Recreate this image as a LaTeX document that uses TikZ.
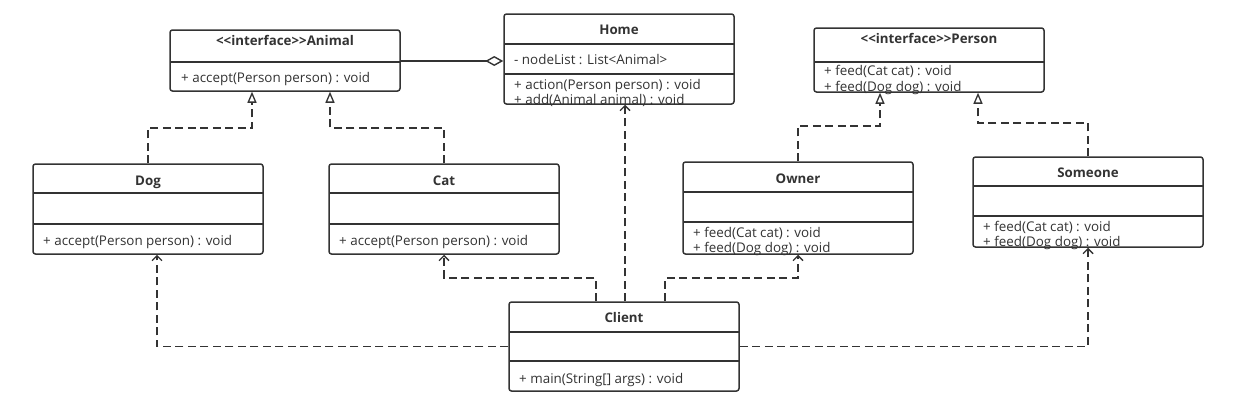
\documentclass[tikz,border=0pt]{standalone}
\usepackage{fontspec}
\setmainfont{Open Sans}
\usetikzlibrary{arrows.meta,calc}
\definecolor{ink}{HTML}{333333}
\begin{document}
\begin{tikzpicture}[x=1pt,y=-1pt,
 box/.style={draw=ink, line width=1.5pt, rounded corners=2.5pt, inner sep=0pt, fill=white},
 sepline/.style={draw=ink, line width=1.5pt},
 ctitle/.style={font=\bfseries\fontsize{13.3}{15}\selectfont, text=ink, inner sep=0pt, text height=9.5pt, text depth=3pt, anchor=center, yshift=-1pt},
 member/.style={font=\fontsize{13.4}{15}\selectfont, text=ink, inner sep=0pt, text height=9.5pt, text depth=3pt, anchor=west, yshift=-1pt},
 real/.style={draw=ink, line width=1.7pt, dash pattern=on 8pt off 4.5pt, -{Triangle[open, length=11pt, width=9pt, line width=1.3pt]}},
 dep/.style={draw=ink, line width=1.7pt, dash pattern=on 8pt off 4.5pt, -{Straight Barb[length=5pt, width=10pt, line width=1.4pt]}},
 agg/.style={draw=ink, line width=1.5pt, -{Diamond[open, length=18pt, width=10pt, line width=1.4pt]}}]
\useasboundingbox (0,0) rectangle (1254,415);

% Animal
\node[box, minimum width=230pt, minimum height=61pt] (animal) at (285,60.5) {};
\draw[sepline] (170,62) -- (400,62);
\node[ctitle] (animalT) at (285,41) {<{}<interface>{}>Animal};
\node[member] (animalM1) at (181,78) {+ accept(Person person) : void};

% Home
\node[box, minimum width=230pt, minimum height=90pt] (home) at (619,59) {};
\draw[sepline] (504,44) -- (734,44);
\draw[sepline] (504,74) -- (734,74);
\node[ctitle] (homeT) at (619,30) {Home};
\node[member] (homeA1) at (514,60) {- nodeList : List<Animal>};
\node[member] (homeM1) at (514,85) {+ action(Person person) : void};
\node[member] (homeM2) at (514,100) {+ add(Animal animal) : void};

% Person
\node[box, minimum width=230pt, minimum height=64pt] (person) at (929,60) {};
\draw[sepline] (814,62) -- (1044,62);
\node[ctitle] (personT) at (929,39) {<{}<interface>{}>Person};
\node[member] (personM1) at (824,71) {+ feed(Cat cat) : void};
\node[member] (personM2) at (824,87) {+ feed(Dog dog) : void};

% Dog
\node[box, minimum width=230pt, minimum height=90pt] (dog) at (148,209) {};
\draw[sepline] (33,193) -- (263,193);
\draw[sepline] (33,224) -- (263,224);
\node[ctitle] (dogT) at (148,181) {Dog};
\node[member] (dogM1) at (43,241) {+ accept(Person person) : void};

% Cat
\node[box, minimum width=230pt, minimum height=90pt] (cat) at (444,209) {};
\draw[sepline] (329,193) -- (559,193);
\draw[sepline] (329,224) -- (559,224);
\node[ctitle] (catT) at (444,181) {Cat};
\node[member] (catM1) at (339,241) {+ accept(Person person) : void};

% Owner
\node[box, minimum width=230pt, minimum height=92pt] (owner) at (798,208) {};
\draw[sepline] (683,192) -- (913,192);
\draw[sepline] (683,222) -- (913,222);
\node[ctitle] (ownerT) at (798,179) {Owner};
\node[member] (ownerM1) at (693,233) {+ feed(Cat cat) : void};
\node[member] (ownerM2) at (693,248) {+ feed(Dog dog) : void};

% Someone
\node[box, minimum width=230pt, minimum height=90pt] (someone) at (1088,202) {};
\draw[sepline] (973,186) -- (1203,186);
\draw[sepline] (973,216) -- (1203,216);
\node[ctitle] (someoneT) at (1088,173) {Someone};
\node[member] (someoneM1) at (983,227) {+ feed(Cat cat) : void};
\node[member] (someoneM2) at (983,242) {+ feed(Dog dog) : void};

% Client
\node[box, minimum width=230pt, minimum height=89pt] (client) at (624,346.5) {};
\draw[sepline] (509,332) -- (739,332);
\draw[sepline] (509,361) -- (739,361);
\node[ctitle] (clientT) at (624,318) {Client};
\node[member] (clientM1) at (519,379) {+ main(String[] args) : void};

% aggregation
\draw[agg] (animal.east |- 0,61) -- (home.west |- 0,61);

% realizations
\draw[real] (dog.north) -- (148,128) -| ($(animal.south)+(-33,0)$);
\draw[real] (cat.north) -- (444,128) -| ($(animal.south)+(45,0)$);
\draw[real] (owner.north) -- (798,126) -| ($(person.south)+(-49,0)$);
\draw[real] (someone.north) -- (1088,123) -| ($(person.south)+(49,0)$);

% dependencies
\draw[dep] (client.west) -| ($(dog.south)+(9,0)$);
\draw[dep] ($(client.north)+(-28,0)$) -- (596,278) -| (cat.south);
\draw[dep] ($(client.north)+(1,0)$) -- ($(home.south)+(6,0)$);
\draw[dep] ($(client.north)+(41,0)$) -- (665,278) -| (owner.south);
\draw[dep] (client.east) -| (someone.south);
\end{tikzpicture}
\end{document}
